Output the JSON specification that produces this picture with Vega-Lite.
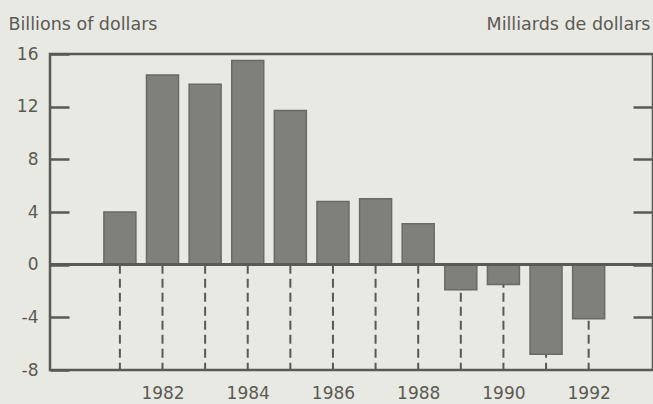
{
  "$schema": "https://vega.github.io/schema/vega-lite/v6.json",
  "width": 603,
  "height": 316,
  "autosize": {"type": "none"},
  "padding": {"left": 50, "top": 54, "right": 0, "bottom": 34},
  "background": "#e9e9e3",
  "config": {
    "font": "DejaVu Sans",
    "view": {"stroke": "#5a5a54", "strokeWidth": 2.5}
  },
  "data": {
    "values": [
      {"year": 1981, "value": 4.0},
      {"year": 1982, "value": 14.4},
      {"year": 1983, "value": 13.7},
      {"year": 1984, "value": 15.5},
      {"year": 1985, "value": 11.7},
      {"year": 1986, "value": 4.8},
      {"year": 1987, "value": 5.0},
      {"year": 1988, "value": 3.1},
      {"year": 1989, "value": -1.9},
      {"year": 1990, "value": -1.5},
      {"year": 1991, "value": -6.8},
      {"year": 1992, "value": -4.1}
    ]
  },
  "resolve": {"axis": {"y": "independent"}},
  "layer": [
    {
      "mark": {"type": "rule", "strokeDash": [9, 5], "strokeWidth": 2, "color": "#5a5a54"},
      "encoding": {
        "x": {
          "field": "year",
          "type": "quantitative",
          "scale": {"domain": [1979.36, 1993.51], "nice": false, "zero": false, "padding": 0},
          "axis": {
            "title": null,
            "values": [1982, 1984, 1986, 1988, 1990, 1992],
            "format": "d",
            "ticks": false,
            "domain": false,
            "grid": false,
            "labelFontSize": 17,
            "labelColor": "#5a5a54",
            "labelPadding": 15,
            "labelFlush": false
          }
        },
        "y": {
          "datum": 0,
          "type": "quantitative",
          "scale": {"domain": [-8, 16], "nice": false},
          "axis": {
            "values": [-8, -4, 0, 4, 8, 12, 16],
            "labelExpr": "'' + datum.value",
            "tickSize": -19,
            "tickWidth": 2.5,
            "tickColor": "#5a5a54",
            "domain": false,
            "grid": false,
            "labelFontSize": 17,
            "labelColor": "#5a5a54",
            "labelPadding": 31,
            "title": "Billions of dollars",
            "titleAngle": 0,
            "titleAlign": "left",
            "titleBaseline": "alphabetic",
            "titleX": -42,
            "titleY": -25,
            "titleFontSize": 17.5,
            "titleFontWeight": "normal",
            "titleColor": "#5a5a54"
          }
        },
        "y2": {"datum": -8}
      }
    },
    {
      "mark": {"type": "bar", "size": 32, "color": "#7f807a", "stroke": "#696a64", "strokeWidth": 1.5},
      "encoding": {
        "x": {"field": "year", "type": "quantitative"},
        "y": {"field": "value", "type": "quantitative", "axis": null}
      }
    },
    {
      "mark": {"type": "rule", "color": "#5a5a54", "strokeWidth": 2.5},
      "encoding": {
        "y": {
          "datum": 0,
          "type": "quantitative",
          "axis": {
            "orient": "right",
            "values": [-4, 0, 4, 8, 12],
            "tickSize": -20,
            "tickWidth": 2.5,
            "tickColor": "#5a5a54",
            "domain": false,
            "grid": false,
            "labels": false,
            "title": "Milliards de dollars",
            "titleAngle": 0,
            "titleAlign": "right",
            "titleBaseline": "alphabetic",
            "titleX": -3,
            "titleY": -25,
            "titleFontSize": 17.5,
            "titleFontWeight": "normal",
            "titleColor": "#5a5a54"
          }
        }
      }
    }
  ]
}
